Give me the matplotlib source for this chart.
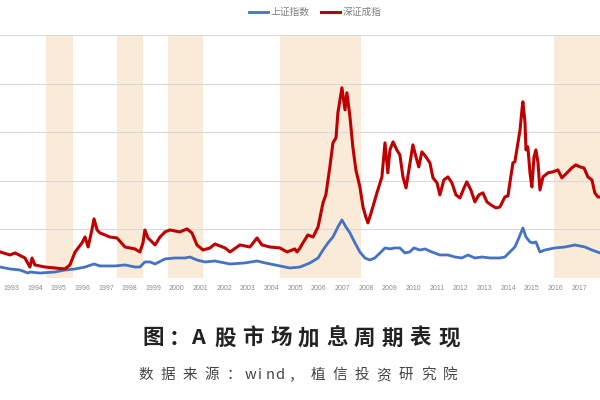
import matplotlib
matplotlib.use("Agg")
import matplotlib.pyplot as plt

plt.rcParams['font.family'] = ['Noto Sans CJK SC', 'DejaVu Sans']

# 上证指数 (年份, 点位)
sh_points = [
    (1993.35, 1130), (1993.77, 930), (1994.19, 820), (1994.53, 510), (1994.61, 620),
    (1995.04, 510), (1995.67, 620), (1996.09, 820), (1996.52, 930), (1996.94, 1130),
    (1997.32, 1440), (1997.57, 1240), (1998.21, 1240), (1998.63, 1340), (1999.05, 1130),
    (1999.26, 1130), (1999.47, 1650), (1999.69, 1650), (1999.90, 1440), (2000.32, 1960),
    (2000.74, 2060), (2001.17, 2060), (2001.38, 2160), (2001.67, 1850), (2002.01, 1650),
    (2002.43, 1750), (2003.07, 1440), (2003.70, 1550), (2004.21, 1750), (2004.55, 1550),
    (2005.18, 1240), (2005.60, 1030), (2006.03, 1130), (2006.45, 1550), (2006.79, 2060),
    (2007.00, 2880), (2007.21, 3610), (2007.42, 4220), (2007.63, 5250), (2007.80, 5970),
    (2007.97, 5250), (2008.14, 4640), (2008.35, 3610), (2008.56, 2680), (2008.77, 2060),
    (2008.98, 1850), (2009.19, 2060), (2009.41, 2580), (2009.62, 3090), (2009.83, 3000),
    (2010.04, 3090), (2010.25, 3090), (2010.46, 2580), (2010.67, 2680), (2010.84, 3090),
    (2011.10, 2880), (2011.31, 2990), (2011.60, 2680), (2011.94, 2370), (2012.28, 2370),
    (2012.58, 2160), (2012.87, 2060), (2013.13, 2370), (2013.42, 2060), (2013.72, 2160),
    (2014.06, 2060), (2014.48, 2060), (2014.69, 2160), (2014.90, 2680), (2015.11, 3190),
    (2015.28, 4120), (2015.45, 5150), (2015.58, 4220), (2015.75, 3710), (2015.87, 3610),
    (2016.00, 3710), (2016.17, 2680), (2016.38, 2880), (2016.80, 3090), (2017.23, 3190),
    (2017.65, 3400), (2018.07, 3190), (2018.37, 2880), (2018.71, 2580),
]

# 深证成指 (年份, 点位)
sz_points = [
    (1993.35, 2680), (1993.77, 2370), (1993.98, 2580), (1994.40, 2060), (1994.61, 1130),
    (1994.70, 2060), (1994.82, 1340), (1995.25, 1130), (1995.67, 1030), (1996.09, 930),
    (1996.30, 1340), (1996.52, 2680), (1996.81, 3610), (1996.94, 4220), (1997.07, 3190),
    (1997.23, 4940), (1997.32, 6080), (1997.45, 4940), (1997.57, 4640), (1997.99, 4220),
    (1998.29, 4120), (1998.63, 3190), (1999.05, 2990), (1999.26, 2680), (1999.39, 3610),
    (1999.47, 4940), (1999.60, 4120), (1999.69, 3910), (1999.90, 3400), (2000.11, 4220),
    (2000.32, 4740), (2000.53, 4940), (2000.95, 4740), (2001.25, 5050), (2001.46, 4640),
    (2001.67, 3400), (2001.93, 2880), (2002.22, 3090), (2002.43, 3500), (2002.86, 3090),
    (2003.07, 2680), (2003.49, 3400), (2003.91, 3190), (2004.21, 4120), (2004.42, 3400),
    (2004.76, 3190), (2005.18, 3090), (2005.48, 2680), (2005.81, 2990), (2005.90, 2680),
    (2006.03, 3090), (2006.15, 3610), (2006.36, 4430), (2006.58, 4220), (2006.79, 5250),
    (2007.00, 7730), (2007.12, 8550), (2007.29, 11430), (2007.42, 13900), (2007.55, 14420),
    (2007.63, 17000), (2007.80, 19570), (2007.93, 17300), (2008.01, 19055), (2008.14, 16580),
    (2008.26, 13490), (2008.39, 11120), (2008.56, 9370), (2008.69, 7310), (2008.81, 6280),
    (2008.90, 5670), (2009.07, 7000), (2009.28, 8760), (2009.49, 10400), (2009.62, 13900),
    (2009.74, 10820), (2009.83, 13180), (2009.96, 14010), (2010.12, 13180), (2010.25, 12670),
    (2010.38, 10400), (2010.51, 9270), (2010.63, 11120), (2010.80, 13700), (2010.93, 12460),
    (2011.05, 11430), (2011.18, 12980), (2011.35, 12460), (2011.52, 11850), (2011.65, 10300),
    (2011.82, 9790), (2011.94, 8550), (2012.11, 10090), (2012.28, 10400), (2012.45, 9790),
    (2012.62, 8550), (2012.79, 8240), (2012.96, 9270), (2013.08, 9890), (2013.25, 9060),
    (2013.42, 7830), (2013.59, 8550), (2013.76, 8760), (2013.93, 7830), (2014.10, 7520),
    (2014.31, 7210), (2014.48, 7310), (2014.69, 8340), (2014.82, 8450), (2014.90, 9790),
    (2015.03, 11850), (2015.11, 11950), (2015.24, 13900), (2015.33, 15240), (2015.41, 17300),
    (2015.45, 18130), (2015.54, 15970), (2015.58, 13180), (2015.66, 13490), (2015.75, 10820),
    (2015.83, 9370), (2015.92, 12460), (2016.00, 13180), (2016.09, 11850), (2016.17, 9060),
    (2016.30, 10400), (2016.51, 10820), (2016.72, 10920), (2016.93, 11120), (2017.10, 10300),
    (2017.31, 10820), (2017.52, 11330), (2017.69, 11640), (2017.86, 11430), (2018.03, 11330),
    (2018.20, 10400), (2018.37, 10090), (2018.49, 8760), (2018.62, 8340), (2018.71, 8340),
]

# 加息周期 (阴影区间)
hike_start = [1995.30, 1998.28, 2000.45, 2005.18, 2016.76]
hike_end = [1996.42, 1999.40, 2001.93, 2008.60, 2018.80]

years = list(range(1993, 2018))
series_names = ["上证指数", "深证成指"]
title_text = "图：A 股市场加息周期表现"
source_text = "数据来源：wind，植信投资研究院"


def spaced_text(fig, s, cx, cy, wide, narrow, punct, **kw):
    # 逐字排列, 模仿原图较宽的字距 (坐标单位: 像素)
    widths = []
    for c in s:
        if c == " ":
            widths.append(narrow / 2)
        elif c in "：，":
            widths.append(punct)
        elif ord(c) < 128:
            widths.append(narrow)
        else:
            widths.append(wide)
    x = cx - sum(widths) / 2
    for c, w in zip(s, widths):
        if c != " ":
            fig.text((x + w / 2) / 600, 1 - cy / 400, c, ha="center", va="center", **kw)
        x += w


fig = plt.figure(figsize=(6, 4), dpi=100)
ax = fig.add_axes([0, 1 - 278 / 400, 1, (278 - 35) / 400])

for s, e in zip(hike_start, hike_end):
    ax.axvspan(s, e, color="#FAEAD8", lw=0, zorder=0)

ax.plot([p[0] for p in sh_points], [p[1] for p in sh_points],
        color="#4472C4", lw=2, label=series_names[0], zorder=3)
ax.plot([p[0] for p in sz_points], [p[1] for p in sz_points],
        color="#C00000", lw=2.2, label=series_names[1], zorder=4)

ax.set_xlim(1993.345, 2018.71)
ax.set_ylim(0, 25000)
ax.set_yticks(range(0, 25001, 5000))
ax.set_yticklabels([])
ax.tick_params(axis="y", length=0)
ax.grid(axis="y", color="#D9D9D9", lw=0.8)
ax.set_axisbelow(True)
for sp in ax.spines.values():
    sp.set_visible(False)

ax.set_xticks([y + 0.82 for y in years])
ax.set_xticklabels([str(y) for y in years], fontsize=5, color="#8C8C8C",
                   family="Liberation Sans")
ax.tick_params(axis="x", length=0, pad=5)

fig.legend(loc="center", bbox_to_anchor=(0.525, 0.97), ncol=2, frameon=False,
           fontsize=7, handlelength=2, handletextpad=0.2, columnspacing=1.2,
           labelcolor="#7F7F7F")

spaced_text(fig, title_text, 301, 338, 28, 13, 24, fontsize=15.5, weight="bold", color="#222222")
spaced_text(fig, source_text, 298, 375, 22, 10, 22, fontsize=10.5, color="#444444")

fig.savefig("out.png", dpi=100)
